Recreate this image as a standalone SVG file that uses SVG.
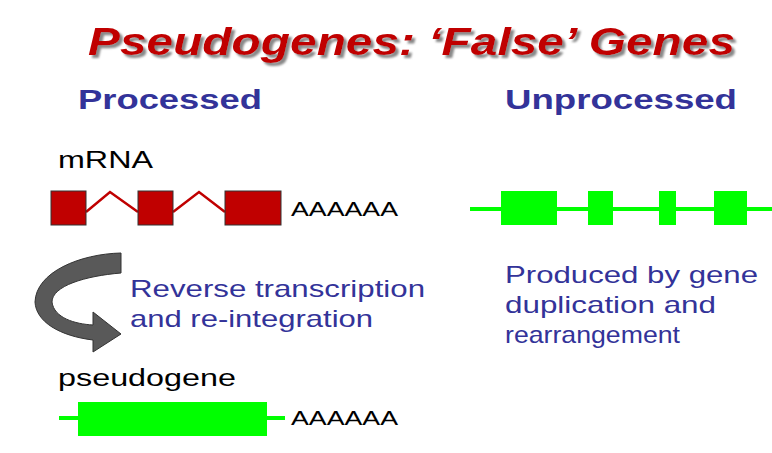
<svg xmlns="http://www.w3.org/2000/svg" width="772" height="453" viewBox="0 0 772 453">
<defs><style>
.t{font-family:"Liberation Sans",Arial,sans-serif}
.h{font-weight:bold;fill:#333399;font-size:27px}
.b{fill:#333399;font-size:24px}
.k{fill:#000;font-size:23px}
.a{fill:#000;font-size:20px}
.red{fill:#c00000;stroke:#333;stroke-width:1}
.g{fill:#00ff00}
.gl{stroke:#00ff00;stroke-width:4}
</style>
<filter id="sh" x="-5%" y="-20%" width="110%" height="150%"><feDropShadow dx="3" dy="3" stdDeviation="1" flood-color="#888"/></filter>
</defs>
<rect width="772" height="453" fill="#fff"/>
<text class="t" x="88" y="55" textLength="647" lengthAdjust="spacingAndGlyphs" font-size="39" font-weight="bold" font-style="italic" fill="#c00000" filter="url(#sh)">Pseudogenes: ‘False’ Genes</text>
<text class="t h" x="78" y="109" textLength="184" lengthAdjust="spacingAndGlyphs">Processed</text>
<text class="t h" x="505" y="109" textLength="232" lengthAdjust="spacingAndGlyphs">Unprocessed</text>
<text class="t k" x="58" y="168" textLength="95" lengthAdjust="spacingAndGlyphs">mRNA</text>
<g id="mrna">
<polyline points="86,212 110,192 138,212" fill="none" stroke="#c00000" stroke-width="2.5"/>
<polyline points="173,212 199,192 225,212" fill="none" stroke="#c00000" stroke-width="2.5"/>
<rect class="red" x="51" y="191" width="35" height="34"/>
<rect class="red" x="138" y="191" width="35" height="34"/>
<rect class="red" x="225" y="191" width="56" height="34"/>
<text class="t a" x="291" y="216" textLength="107" lengthAdjust="spacingAndGlyphs">AAAAAA</text>
</g>
<g id="arrow">
<path d="M121,253 L121,273 C85,276 52,286 52,302 C54,318 75,324 93,325 L93,312 L121,334 L93,352 L93,340 C60,336 36,322 35,302 C36,272 80,254 121,253 Z" fill="#595959" stroke="#333" stroke-width="1"/>
</g>
<text class="t b" x="130" y="297" textLength="295" lengthAdjust="spacingAndGlyphs">Reverse transcription</text>
<text class="t b" x="130" y="327" textLength="243" lengthAdjust="spacingAndGlyphs">and re-integration</text>
<text class="t k" x="58" y="386" textLength="178" lengthAdjust="spacingAndGlyphs">pseudogene</text>
<g id="pseudogene">
<line class="gl" x1="59" y1="418" x2="285" y2="418"/>
<rect class="g" x="78" y="402" width="189" height="34"/>
<text class="t a" x="291" y="425" textLength="107" lengthAdjust="spacingAndGlyphs">AAAAAA</text>
</g>
<g id="unprocessed">
<line class="gl" x1="470" y1="209" x2="772" y2="209"/>
<rect class="g" x="501" y="191" width="56" height="34"/>
<rect class="g" x="588" y="191" width="25" height="34"/>
<rect class="g" x="659" y="191" width="17" height="34"/>
<rect class="g" x="714" y="191" width="33" height="34"/>
</g>
<text class="t b" x="505" y="283" textLength="253" lengthAdjust="spacingAndGlyphs">Produced by gene</text>
<text class="t b" x="505" y="313" textLength="211" lengthAdjust="spacingAndGlyphs">duplication and</text>
<text class="t b" x="505" y="343" textLength="175" lengthAdjust="spacingAndGlyphs">rearrangement</text>
</svg>
